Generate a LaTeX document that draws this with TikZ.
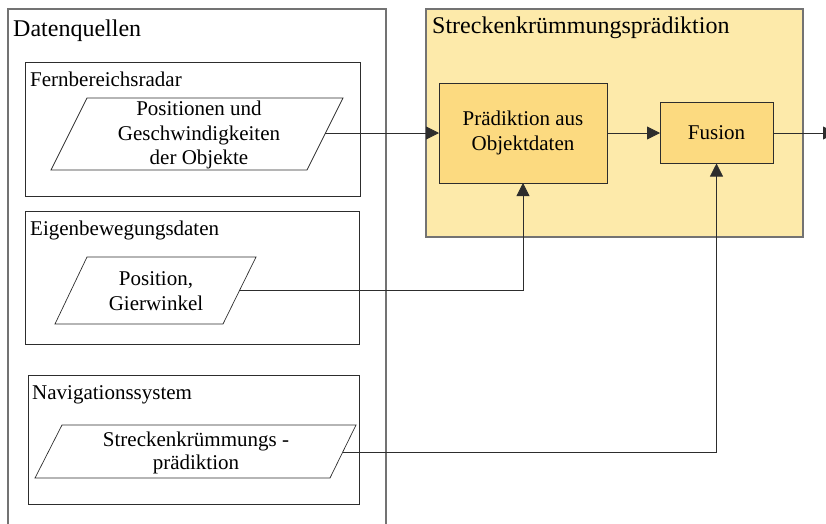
\documentclass[tikz,border=0pt]{standalone}
\usepackage{fontspec}
\setmainfont{Liberation Serif}
\usetikzlibrary{arrows.meta}
\definecolor{outerfill}{RGB}{253,234,170}
\definecolor{innerfill}{RGB}{252,218,128}
\definecolor{framegray}{RGB}{115,115,115}
\definecolor{linedark}{RGB}{45,45,45}
\begin{document}
\begin{tikzpicture}[x=1pt,y=-1pt,
  frame/.style={draw=framegray, line width=1.1pt, inner sep=0pt, outer sep=0pt, anchor=north west},
  srcbox/.style={draw=linedark, line width=0.8pt, inner sep=0pt, outer sep=0pt, anchor=north west},
  block/.style={draw=linedark, line width=0.8pt, fill=innerfill, inner sep=0pt, outer sep=0pt,
                align=center, font=\rmfamily\fontsize{21}{25}\selectfont},
  para/.style={draw=linedark, line width=0.7pt},
  paratext/.style={align=center, inner sep=0pt, font=\rmfamily\fontsize{21}{24.5}\selectfont},
  title/.style={anchor=base west, inner sep=0pt, font=\rmfamily\fontsize{24}{28}\selectfont},
  label/.style={anchor=base west, inner sep=0pt, font=\rmfamily\fontsize{21}{25}\selectfont},
  conn/.style={draw=linedark, line width=0.8pt},
  arr/.style={conn, -{Triangle[length=13pt,width=13pt]}}
]
\useasboundingbox (0,0) rectangle (826,523);

% data sources frame (runs off the bottom edge)
\node[frame, minimum width=378pt, minimum height=540pt] (dq) at (8,9) {};
\node[title] (dqt) at (13,36) {Datenquellen};

% curvature prediction frame
\node[frame, fill=outerfill, minimum width=377pt, minimum height=228pt] (scp) at (426,9) {};
\node[title] (scpt) at (432,33) {Streckenkrümmungsprädiktion};

% source boxes
\node[srcbox, minimum width=335pt, minimum height=134pt] (radar) at (25,62) {};
\node[label] (radart) at (30,86) {Fernbereichsradar};
\node[srcbox, minimum width=334pt, minimum height=133pt] (ego) at (25,211) {};
\node[label] (egot) at (30,235) {Eigenbewegungsdaten};
\node[srcbox, minimum width=331pt, minimum height=129pt] (nav) at (28,375) {};
\node[label] (navt) at (32,399) {Navigationssystem};

% data parallelograms
\draw[para] (87,98) -- (343,98) -- (307,170) -- (51,170) -- cycle;
\node[paratext] (p1) at (199,135) {Positionen und\\Geschwindigkeiten\\der Objekte};
\coordinate (p1out) at (325,133);

\draw[para] (256,257) -- (223,324) -- (55,324) -- (87,257) -- cycle;
\node[paratext] (p2) at (156,291) {Position,\\Gierwinkel};
\coordinate (p2out) at (240,290);

\draw[para] (62,425) -- (356,425) -- (330,478) -- (35,478) -- cycle;
\node[paratext, font=\rmfamily\fontsize{21}{23}\selectfont] (p3) at (196,453) {Streckenkrümmungs -\\prädiktion};
\coordinate (p3out) at (343,452);

% processing blocks
\node[block, minimum width=168pt, minimum height=100pt] (pred) at (523,133) {Prädiktion aus\\Objektdaten};
\node[block, minimum width=113pt, minimum height=61pt] (fus) at (716.5,133) {Fusion};
\coordinate (outend) at (836,133);

% connectors
\draw[arr] (p1out) -- (pred.west);
\draw[arr] (p2out) -| (pred.south);
\draw[arr] (p3out) -| (fus.south);
\draw[arr] (pred.east) -- (fus.west);
\draw[arr] (fus.east) -- (outend);
\end{tikzpicture}
\end{document}
